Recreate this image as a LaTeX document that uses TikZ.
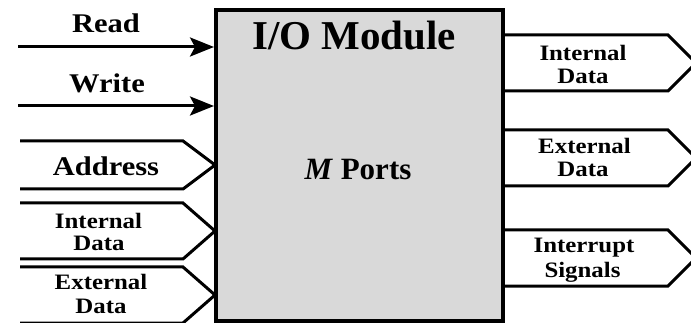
\documentclass[tikz,border=0pt]{standalone}
\usepackage{fontspec}
\setmainfont{Liberation Serif}
\newfontfamily\widefont{Liberation Serif}[FakeStretch=1.13]
\usetikzlibrary{arrows.meta}
\definecolor{modfill}{HTML}{D9D9D9}
\tikzset{
  bus/.style={line width=3pt, line join=miter},
  sig/.style={line width=3pt, -{Stealth[length=24pt,width=19pt,inset=5pt]}},
  modbox/.style={draw, line width=4pt, fill=modfill, minimum width=287pt, minimum height=311pt, inner sep=0pt},
  biglbl/.style={anchor=base, inner sep=0pt, font=\widefont\bfseries\fontsize{27}{30}\selectfont},
  smlbl/.style={anchor=base, inner sep=0pt, font=\widefont\bfseries\fontsize{22}{24}\selectfont},
  titlelbl/.style={anchor=base, inner sep=0pt, font=\bfseries\fontsize{41}{44}\selectfont},
  portlbl/.style={anchor=base, inner sep=0pt, font=\bfseries\fontsize{31}{34}\selectfont},
}
\begin{document}
\begin{tikzpicture}[x=1pt,y=-1pt]
\clip (0,0) rectangle (691,323);
\fill[white] (0,0) rectangle (691,323);
% right buses (drawn before the box so the box border covers their start)
\draw[bus] (503,35) -- (668,35) -- (696,63) -- (668,91) -- (503,91);
\draw[bus] (503,130) -- (668,130) -- (696,158) -- (668,186) -- (503,186);
\draw[bus] (503,230) -- (668,230) -- (696,258) -- (668,286) -- (503,286);
% module box
\node[modbox] (mod) at (359.5,165.5) {};
\node[titlelbl] (title) at (354,50) {I/O Module};
\node[portlbl] (ports) at (358,180) {\textit{M} Ports};
% control signals
\coordinate (rd) at (18,47);
\coordinate (wr) at (18,106);
\draw[sig] (rd) -- (rd -| mod.west);
\draw[sig] (wr) -- (wr -| mod.west);
\node[biglbl] (lread) at (106,33) {Read};
\node[biglbl] (lwrite) at (107,93) {Write};
% left buses
\draw[bus] (20,141) -- (183,141) -- (215,165) -- (183,189) -- (20,189);
\draw[bus] (20,203) -- (183,203) -- (215,231) -- (183,259) -- (20,259);
\draw[bus] (20,267) -- (183,267) -- (215,295) -- (183,323) -- (20,323);
\node[biglbl] (laddr) at (106,176) {Address};
\node[smlbl] (lint1) at (98.5,229) {Internal};
\node[smlbl] (lint2) at (99,250.5) {Data};
\node[smlbl] (lext1) at (101,290) {External};
\node[smlbl] (lext2) at (101,313) {Data};
% right labels
\node[smlbl] (rint1) at (583,61) {Internal};
\node[smlbl] (rint2) at (583,84) {Data};
\node[smlbl] (rext1) at (584.5,154) {External};
\node[smlbl] (rext2) at (583,177) {Data};
\node[smlbl] (rirq1) at (584,253) {Interrupt};
\node[smlbl] (rirq2) at (582.5,277) {Signals};
\end{tikzpicture}
\end{document}
